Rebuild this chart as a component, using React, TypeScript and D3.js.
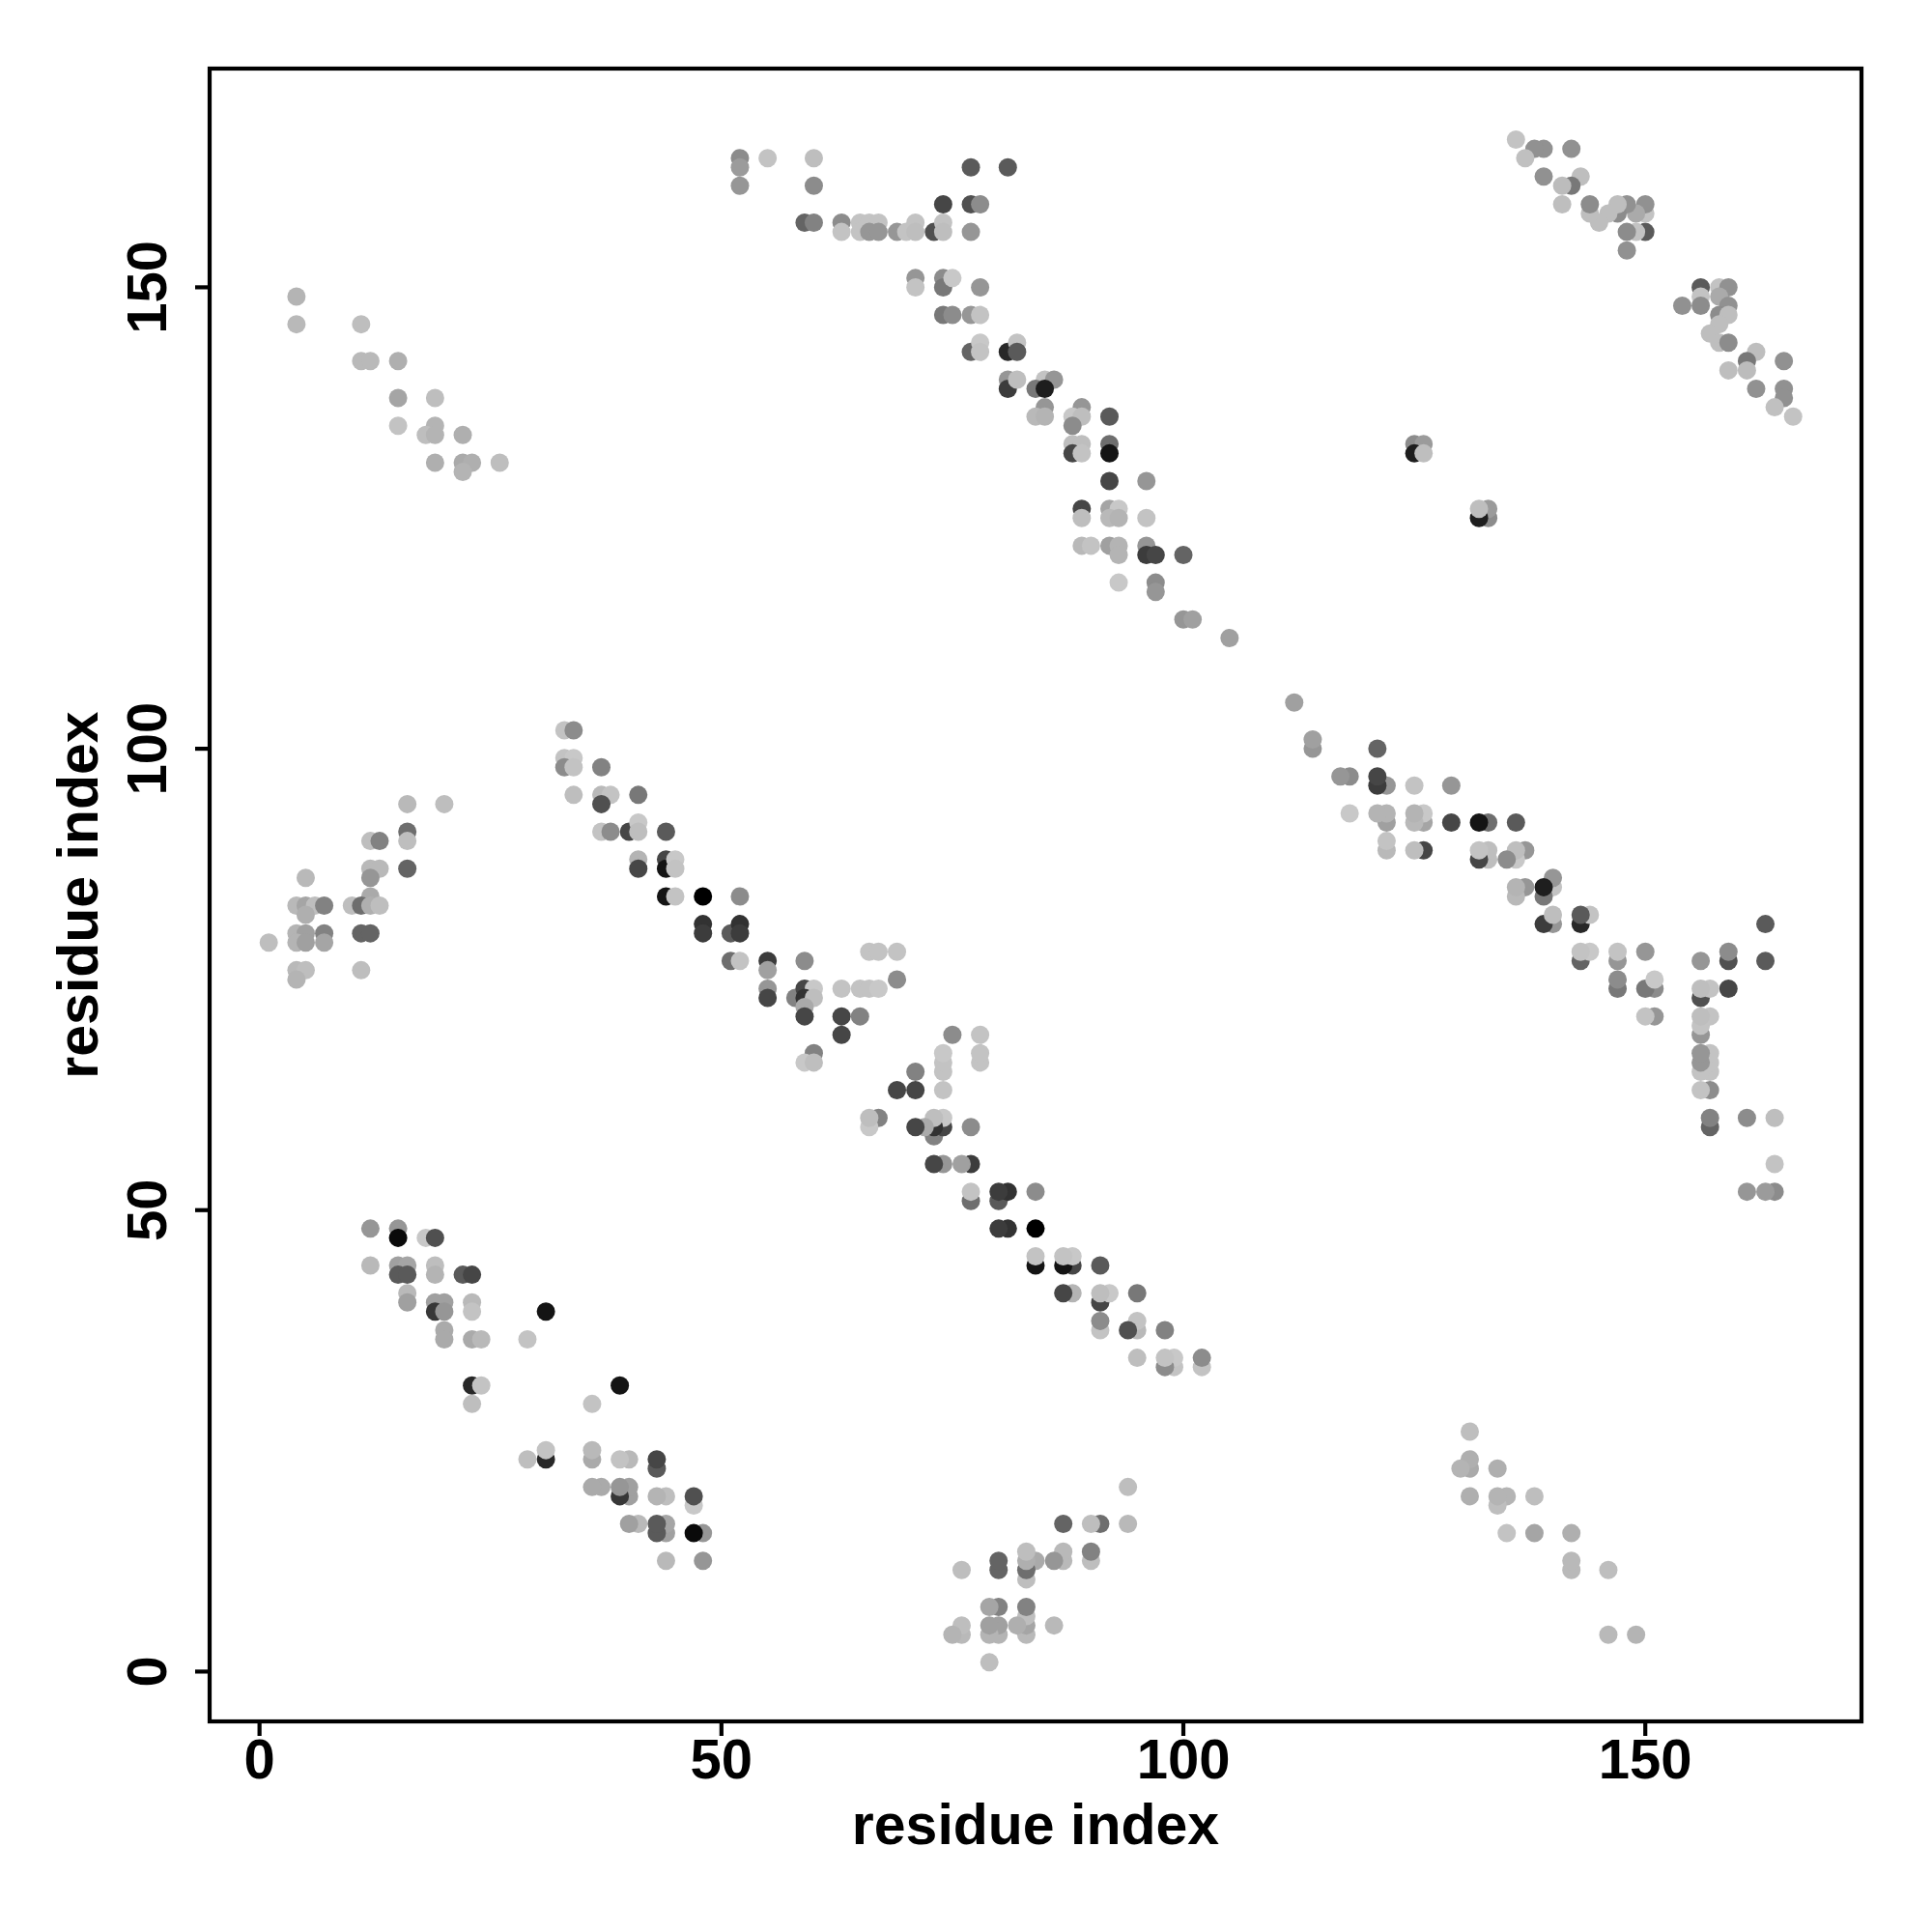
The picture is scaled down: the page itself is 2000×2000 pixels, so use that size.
import React from 'react';
import * as d3 from 'd3';

// Contact pairs [residue i, residue j, grey level 0-255], i < j.
// The contact map is symmetric: each pair is drawn at (i, j) and at (j, i).
const contactsTopLeft: [number, number, number][] = [
  [4,149,180],[4,146,185],[11,146,190],[11,142,185],[12,142,185],[15,142,175],[15,138,165],[19,138,190],
  [15,135,195],[19,135,180],[18,134,190],[19,134,180],[22,134,175],[19,131,175],[22,131,170],[23,131,175],
  [22,130,180],[26,131,190],
];

const contactsMidLeft: [number, number, number][] = [
  [16,94,185],[20,94,190],[16,91,110],[16,90,190],[12,90,190],[13,90,130],[16,87,100],[12,87,185],[13,87,185],
  [12,86,150],[5,86,185],[12,84,170],[10,83,190],[11,83,110],[12,83,175],[13,83,190],[4,83,185],[5,83,165],
  [6,83,190],[7,83,130],[5,82,175],[11,80,100],[12,80,100],[4,80,180],[5,80,160],[7,80,130],[4,79,180],
  [5,79,160],[7,79,165],[1,79,190],[4,76,185],[5,76,190],[4,75,180],[11,76,190],
];

const contactsCentre: [number, number, number][] = [
  [33,102,195],[34,102,140],[33,99,195],[34,99,200],[33,98,140],[34,98,195],[37,98,130],[34,95,190],
  [37,95,185],[38,95,195],[37,94,80],[41,95,120],[37,91,195],[38,91,140],[40,91,70],[41,92,200],[41,91,190],
  [44,91,90],[41,88,180],[41,87,70],[44,88,70],[44,87,20],[45,88,200],[45,87,195],[44,84,20],[45,84,195],
  [48,84,0],[52,84,140],[48,81,50],[48,80,60],[51,80,90],[52,81,50],[52,80,60],[51,77,110],[52,77,195],
  [55,77,60],[55,76,160],[59,77,140],[66,78,195],[67,78,195],[69,78,195],[55,74,150],[55,73,70],[58,73,130],
  [59,74,70],[60,74,200],[59,73,50],[60,73,190],[59,72,170],[59,71,70],[63,74,195],[65,74,195],[66,74,195],
  [67,74,200],[69,75,140],[63,71,70],[65,71,130],[63,69,70],[60,67,130],[59,66,200],[60,66,190],
];

const contactsTopBand: [number, number, number][] = [
  [52,164,140],[52,163,155],[52,161,150],[55,164,195],[60,164,190],[60,161,140],[77,163,90],[81,163,90],
  [74,159,70],[77,159,80],[78,159,140],[59,157,100],[60,157,130],[63,157,140],[63,156,195],[65,157,195],
  [66,157,195],[67,157,195],[65,156,195],[66,156,150],[67,156,150],[69,156,150],[70,156,195],[71,157,195],
  [71,156,190],[73,156,80],[74,157,195],[74,156,190],[77,156,150],[71,151,150],[71,150,195],[74,151,140],
  [74,150,120],[75,151,200],[78,150,150],[74,147,120],[75,147,140],[77,147,150],[78,147,195],[77,143,100],
  [78,144,200],[78,143,195],[81,143,40],[82,144,195],[82,143,90],[81,140,150],[81,139,60],[82,140,190],
  [85,140,195],[86,140,150],[84,139,120],[85,139,30],[85,137,150],[84,136,185],[85,136,180],[89,137,150],
  [88,136,200],[89,136,190],[88,135,140],[92,136,90],[88,133,190],[89,133,190],[88,132,70],[89,132,195],
  [92,133,110],[92,132,20],[92,129,70],[96,129,150],[89,126,70],[89,125,190],[92,126,165],[93,126,200],
  [92,125,185],[93,125,180],[96,125,195],[89,122,185],[90,122,195],[92,122,160],[93,122,180],[93,121,180],
  [96,122,150],[96,121,60],[97,121,70],[100,121,100],[93,118,200],[97,118,140],[97,117,150],[100,114,150],
  [101,114,160],[105,112,160],
];

const contactsTopRight: [number, number, number][] = [
  [150,156,90],[150,158,195],[150,159,145],[148,154,145],[149,156,195],[148,156,140],[149,158,170],
  [148,159,145],[147,158,140],[147,159,190],[146,158,190],[145,157,190],[144,158,190],[144,159,140],
  [143,162,190],[142,161,120],[142,165,145],[141,159,190],[141,161,188],[139,162,145],[139,165,145],
  [138,165,145],[137,164,192],[136,166,195],
];

const contactsSmall: [number, number, number][] = [
  [125,133,140],[126,133,155],[125,132,30],[126,132,190],
];

const contactsBottomLeft: [number, number, number][] = [
  [12,48,150],[15,48,150],[15,47,10],[18,47,200],[19,47,80],[12,44,185],[15,44,160],[16,44,165],[15,43,90],
  [16,43,90],[19,44,190],[19,43,180],[22,43,90],[23,43,70],[16,41,185],[16,40,160],[19,40,160],[20,40,160],
  [19,39,55],[20,39,150],[23,40,185],[23,39,195],[31,39,20],[20,37,170],[20,36,170],[23,36,170],[24,36,185],
  [29,36,195],[23,31,40],[24,31,195],[23,29,190],
];

const xTicks = [0, 50, 100, 150];
const yTicks = [0, 50, 100, 150];
const xTitle = 'residue index';
const yTitle = 'residue index';

export default function App() {
  const left = 217, right = 1927, top = 71, bottom = 1782;
  const x = d3.scaleLinear().domain([-5.4, 173.4]).range([left, right]);
  const y = d3.scaleLinear().domain([-5.4, 173.7]).range([bottom, top]);
  const font = "'Liberation Sans', Arial, Helvetica, sans-serif";
  const pairs = [
    ...contactsTopLeft, ...contactsMidLeft, ...contactsCentre, ...contactsTopBand,
    ...contactsTopRight, ...contactsSmall, ...contactsBottomLeft,
  ];
  const pts: { px: number; py: number; g: number }[] = [];
  pairs.forEach(([i, j, g]) => {
    pts.push({ px: x(i), py: y(j), g });
    pts.push({ px: x(j), py: y(i), g });
  });
  const midX = (left + right) / 2;
  const midY = (top + bottom) / 2;
  const lw = 4.2;
  return (
    <svg width={2000} height={2000} style={{ position: 'absolute', left: 0, top: 0, background: '#fff' }}>
      <rect x={0} y={0} width={2000} height={2000} fill="#fff" />
      {pts.map((p, k) => (
        <circle key={k} cx={p.px} cy={p.py} r={9.5} fill={d3.rgb(p.g, p.g, p.g).toString()} />
      ))}
      <rect x={left} y={top} width={right - left} height={bottom - top} fill="none" stroke="#000" strokeWidth={lw} />
      {xTicks.map((t) => (
        <g key={'x' + t}>
          <line x1={x(t)} x2={x(t)} y1={bottom} y2={bottom + 15} stroke="#000" strokeWidth={lw} />
          <text x={x(t)} y={1841} textAnchor="middle" fontFamily={font} fontWeight="bold" fontSize={58}>{t}</text>
        </g>
      ))}
      {yTicks.map((t) => (
        <g key={'y' + t}>
          <line x1={left - 15} x2={left} y1={y(t)} y2={y(t)} stroke="#000" strokeWidth={lw} />
          <text transform={`translate(172,${y(t)}) rotate(-90)`} textAnchor="middle" fontFamily={font} fontWeight="bold" fontSize={58}>{t}</text>
        </g>
      ))}
      <text x={midX} y={1909} textAnchor="middle" fontFamily={font} fontWeight="bold" fontSize={59}>{xTitle}</text>
      <text transform={`translate(101,${midY}) rotate(-90)`} textAnchor="middle" fontFamily={font} fontWeight="bold" fontSize={59}>{yTitle}</text>
    </svg>
  );
}
